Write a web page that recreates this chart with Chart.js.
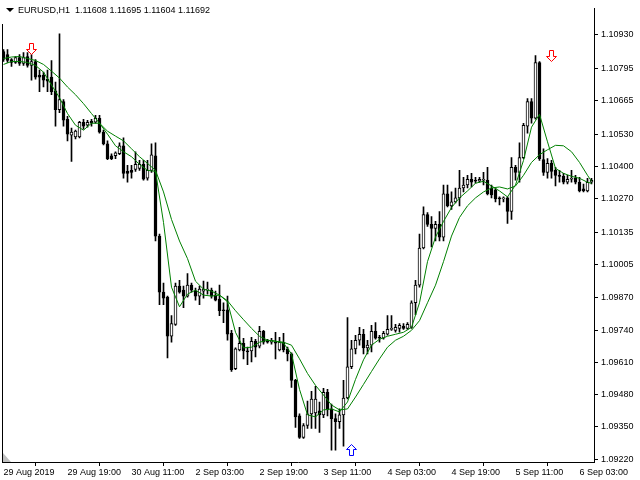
<!DOCTYPE html>
<html>
<head>
<meta charset="utf-8">
<script src="https://cdn.jsdelivr.net/npm/chart.js@4.4.0/dist/chart.umd.min.js"></script>
<style>
  html, body { margin: 0; padding: 0; background: #fff; }
  canvas { display: block; }
</style>
</head>
<body>
<canvas id="chart" width="640" height="480"></canvas>
<script>
const titleText = "EURUSD,H1  1.11608 1.11695 1.11604 1.11692";

// H1 candles, one per bar, left to right
const opens = [
  1.10863, 1.10851, 1.10831, 1.10819, 1.10839, 1.10815, 1.10843, 1.10807, 1.10823, 1.10768,
  1.10768, 1.10752, 1.10760, 1.10705, 1.10629, 1.10661, 1.10590, 1.10526, 1.10519, 1.10519,
  1.10578, 1.10566, 1.10582, 1.10578, 1.10594, 1.10538, 1.10491, 1.10443, 1.10443, 1.10451,
  1.10483, 1.10380, 1.10384, 1.10388, 1.10392, 1.10408, 1.10352, 1.10384, 1.10443, 1.10119,
  1.09893, 1.09873, 1.09715, 1.09763, 1.09917, 1.09901, 1.09877, 1.09921, 1.09897, 1.09877,
  1.09897, 1.09901, 1.09901, 1.09881, 1.09865, 1.09822, 1.09822, 1.09727, 1.09584, 1.09660,
  1.09687, 1.09656, 1.09656, 1.09695, 1.09675, 1.09735, 1.09695, 1.09691, 1.09691, 1.09660,
  1.09691, 1.09664, 1.09644, 1.09537, 1.09394, 1.09307, 1.09355, 1.09402, 1.09406, 1.09414,
  1.09398, 1.09489, 1.09422, 1.09383, 1.09371, 1.09398, 1.09466, 1.09592, 1.09664, 1.09699,
  1.09723, 1.09668, 1.09679, 1.09735, 1.09711, 1.09707, 1.09723, 1.09743, 1.09739, 1.09747,
  1.09755, 1.09747, 1.09751, 1.09850, 1.09921, 1.10071, 1.10206, 1.10166, 1.10150, 1.10166,
  1.10115, 1.10289, 1.10241, 1.10257, 1.10273, 1.10313, 1.10325, 1.10348, 1.10344, 1.10340,
  1.10344, 1.10344, 1.10313, 1.10305, 1.10273, 1.10269, 1.10273, 1.10218, 1.10396, 1.10376,
  1.10435, 1.10562, 1.10661, 1.10594, 1.10819, 1.10427, 1.10376, 1.10412, 1.10384, 1.10364,
  1.10360, 1.10336, 1.10348, 1.10352, 1.10336, 1.10309, 1.10301, 1.10336
];
const highs = [
  1.10871, 1.10871, 1.10835, 1.10843, 1.10851, 1.10859, 1.10859, 1.10851, 1.10831, 1.10788,
  1.10780, 1.10788, 1.10827, 1.10740, 1.10934, 1.10669, 1.10602, 1.10554, 1.10546, 1.10582,
  1.10590, 1.10586, 1.10590, 1.10606, 1.10606, 1.10546, 1.10503, 1.10451, 1.10459, 1.10495,
  1.10515, 1.10404, 1.10404, 1.10459, 1.10424, 1.10424, 1.10424, 1.10491, 1.10495, 1.10127,
  1.09929, 1.09877, 1.09798, 1.09929, 1.09941, 1.09917, 1.09968, 1.09929, 1.09909, 1.09917,
  1.09937, 1.09933, 1.09909, 1.09897, 1.09921, 1.09850, 1.09877, 1.09739, 1.09668, 1.09751,
  1.09707, 1.09671, 1.09711, 1.09703, 1.09755, 1.09739, 1.09703, 1.09707, 1.09731, 1.09711,
  1.09727, 1.09671, 1.09648, 1.09541, 1.09402, 1.09363, 1.09454, 1.09493, 1.09513, 1.09450,
  1.09505, 1.09501, 1.09442, 1.09402, 1.09422, 1.09537, 1.09790, 1.09699, 1.09719, 1.09751,
  1.09743, 1.09699, 1.09759, 1.09770, 1.09719, 1.09735, 1.09798, 1.09798, 1.09763, 1.09766,
  1.09766, 1.09770, 1.09858, 1.09941, 1.10127, 1.10237, 1.10214, 1.10198, 1.10178, 1.10218,
  1.10325, 1.10325, 1.10297, 1.10313, 1.10384, 1.10356, 1.10364, 1.10372, 1.10356, 1.10356,
  1.10376, 1.10396, 1.10325, 1.10313, 1.10277, 1.10277, 1.10277, 1.10435, 1.10404, 1.10495,
  1.10574, 1.10673, 1.10673, 1.10847, 1.10823, 1.10471, 1.10431, 1.10424, 1.10396, 1.10384,
  1.10372, 1.10364, 1.10384, 1.10364, 1.10356, 1.10329, 1.10352, 1.10352
];
const lows = [
  1.10823, 1.10819, 1.10803, 1.10815, 1.10807, 1.10807, 1.10800, 1.10748, 1.10752, 1.10701,
  1.10720, 1.10701, 1.10689, 1.10562, 1.10617, 1.10562, 1.10503, 1.10420, 1.10511, 1.10515,
  1.10550, 1.10558, 1.10562, 1.10574, 1.10534, 1.10487, 1.10427, 1.10427, 1.10431, 1.10447,
  1.10352, 1.10336, 1.10352, 1.10380, 1.10384, 1.10344, 1.10344, 1.10376, 1.10099, 1.09842,
  1.09842, 1.09628, 1.09691, 1.09759, 1.09889, 1.09830, 1.09873, 1.09893, 1.09861, 1.09842,
  1.09869, 1.09885, 1.09869, 1.09858, 1.09798, 1.09770, 1.09699, 1.09573, 1.09580, 1.09656,
  1.09624, 1.09600, 1.09612, 1.09632, 1.09668, 1.09683, 1.09687, 1.09683, 1.09624, 1.09656,
  1.09652, 1.09616, 1.09509, 1.09347, 1.09303, 1.09303, 1.09343, 1.09343, 1.09343, 1.09327,
  1.09387, 1.09394, 1.09256, 1.09256, 1.09343, 1.09272, 1.09462, 1.09584, 1.09644, 1.09679,
  1.09644, 1.09644, 1.09652, 1.09703, 1.09691, 1.09703, 1.09719, 1.09739, 1.09731, 1.09731,
  1.09743, 1.09743, 1.09747, 1.09802, 1.09913, 1.10067, 1.10158, 1.10075, 1.10099, 1.10099,
  1.10099, 1.10237, 1.10226, 1.10253, 1.10241, 1.10297, 1.10313, 1.10317, 1.10332, 1.10336,
  1.10325, 1.10285, 1.10273, 1.10257, 1.10245, 1.10257, 1.10170, 1.10186, 1.10344, 1.10336,
  1.10431, 1.10534, 1.10574, 1.10590, 1.10424, 1.10364, 1.10352, 1.10352, 1.10321, 1.10336,
  1.10329, 1.10329, 1.10336, 1.10329, 1.10297, 1.10297, 1.10297, 1.10329
];
const closes = [
  1.10831, 1.10827, 1.10819, 1.10839, 1.10815, 1.10839, 1.10807, 1.10823, 1.10760, 1.10760,
  1.10748, 1.10744, 1.10701, 1.10629, 1.10669, 1.10586, 1.10530, 1.10538, 1.10542, 1.10578,
  1.10562, 1.10578, 1.10574, 1.10594, 1.10538, 1.10491, 1.10431, 1.10431, 1.10455, 1.10483,
  1.10372, 1.10372, 1.10376, 1.10408, 1.10408, 1.10348, 1.10384, 1.10447, 1.10119, 1.09893,
  1.09869, 1.09715, 1.09766, 1.09917, 1.09893, 1.09877, 1.09921, 1.09901, 1.09877, 1.09905,
  1.09905, 1.09905, 1.09877, 1.09861, 1.09818, 1.09818, 1.09723, 1.09580, 1.09664, 1.09687,
  1.09656, 1.09652, 1.09695, 1.09671, 1.09735, 1.09691, 1.09691, 1.09699, 1.09687, 1.09691,
  1.09660, 1.09644, 1.09537, 1.09390, 1.09307, 1.09355, 1.09402, 1.09462, 1.09462, 1.09398,
  1.09489, 1.09418, 1.09383, 1.09371, 1.09398, 1.09466, 1.09592, 1.09664, 1.09699, 1.09723,
  1.09668, 1.09679, 1.09735, 1.09707, 1.09707, 1.09727, 1.09743, 1.09747, 1.09751, 1.09759,
  1.09747, 1.09763, 1.09850, 1.09921, 1.10071, 1.10206, 1.10166, 1.10150, 1.10166, 1.10115,
  1.10289, 1.10241, 1.10257, 1.10273, 1.10313, 1.10325, 1.10348, 1.10336, 1.10340, 1.10348,
  1.10348, 1.10289, 1.10285, 1.10269, 1.10269, 1.10273, 1.10218, 1.10396, 1.10376, 1.10435,
  1.10566, 1.10661, 1.10594, 1.10819, 1.10431, 1.10376, 1.10412, 1.10380, 1.10364, 1.10360,
  1.10336, 1.10348, 1.10352, 1.10336, 1.10301, 1.10301, 1.10336, 1.10344
];

// the two green averages, read every second bar
const maBars = [
  0, 2, 4, 6, 8, 10, 12, 14, 16, 18, 20, 22, 24, 26, 28, 30, 32, 34, 36, 38,
  40, 42, 44, 46, 48, 50, 52, 54, 56, 58, 60, 62, 64, 66, 68, 70, 72, 74, 76, 78,
  80, 82, 84, 86, 88, 90, 92, 94, 96, 98, 100, 102, 104, 106, 108, 110, 112, 114, 116, 118,
  120, 122, 124, 126, 128, 130, 132, 134, 136, 138, 140, 142, 144, 146, 147
];
const fastMa = [
  1.10811, 1.10823, 1.10823, 1.10819, 1.10807, 1.10780, 1.10728, 1.10677, 1.10613, 1.10566,
  1.10546, 1.10574, 1.10574, 1.10530, 1.10483, 1.10459, 1.10439, 1.10408, 1.10384, 1.10380,
  1.10174, 1.09913, 1.09834, 1.09885, 1.09901, 1.09881, 1.09877, 1.09881, 1.09854, 1.09731,
  1.09668, 1.09671, 1.09691, 1.09699, 1.09695, 1.09687, 1.09644, 1.09501, 1.09398, 1.09390,
  1.09418, 1.09422, 1.09410, 1.09450, 1.09541, 1.09620, 1.09679, 1.09703, 1.09715, 1.09723,
  1.09731, 1.09751, 1.09850, 1.10016, 1.10115, 1.10178, 1.10234, 1.10273, 1.10301, 1.10332,
  1.10340, 1.10321, 1.10301, 1.10277, 1.10325, 1.10424, 1.10558, 1.10610, 1.10499, 1.10392,
  1.10372, 1.10360, 1.10352, 1.10336, 1.10332
];
const slowMa = [
  1.10835, 1.10841, 1.10843, 1.10835, 1.10827, 1.10811, 1.10784, 1.10756, 1.10720, 1.10689,
  1.10653, 1.10613, 1.10574, 1.10542, 1.10522, 1.10503, 1.10471, 1.10439, 1.10412, 1.10384,
  1.10297, 1.10186, 1.10099, 1.10028, 1.09937, 1.09905, 1.09897, 1.09881, 1.09858, 1.09818,
  1.09782, 1.09747, 1.09715, 1.09699, 1.09695, 1.09691, 1.09679, 1.09624, 1.09565, 1.09517,
  1.09478, 1.09438, 1.09418, 1.09422, 1.09470, 1.09521, 1.09573, 1.09624, 1.09671, 1.09699,
  1.09715, 1.09739, 1.09778, 1.09850, 1.09921, 1.10016, 1.10119, 1.10194, 1.10241, 1.10273,
  1.10297, 1.10313, 1.10317, 1.10309, 1.10321, 1.10364, 1.10416, 1.10447, 1.10467, 1.10485,
  1.10483, 1.10459, 1.10416, 1.10364, 1.10340
];

// signal arrows
const sellBars = [7, 137];
const sellPrices = [1.10875, 1.10847];
const buyBars = [87];
const buyPrices = [1.09256];

// axes
const yTicks = [1.10930, 1.10795, 1.10665, 1.10530, 1.10400, 1.10270, 1.10135,
  1.10005, 1.09870, 1.09740, 1.09610, 1.09480, 1.09350, 1.09220];
const xTickBars = [0, 16, 32, 48, 64, 80, 96, 112, 128, 144];
const xTickLabels = ["29 Aug 2019", "29 Aug 19:00", "30 Aug 11:00", "2 Sep 03:00",
  "2 Sep 19:00", "3 Sep 11:00", "4 Sep 03:00", "4 Sep 19:00", "5 Sep 11:00", "6 Sep 03:00"];

const FONT = '"Liberation Sans", Arial, sans-serif';

function arrowImage(color, up) {
  const c = document.createElement("canvas");
  c.width = 11;
  c.height = 12;
  const g = c.getContext("2d");
  let pts = [[3.5, 0.5], [7.5, 0.5], [7.5, 6.5], [10.5, 6.5], [5.5, 11.5], [0.5, 6.5], [3.5, 6.5]];
  if (up) pts = pts.map(([x, y]) => [x, 12 - y]);
  g.beginPath();
  pts.forEach(([x, y], k) => (k ? g.lineTo(x, y) : g.moveTo(x, y)));
  g.closePath();
  g.fillStyle = "#fff";
  g.fill();
  g.strokeStyle = color;
  g.lineWidth = 1;
  g.stroke();
  return c;
}
const sellArrow = arrowImage("#ff0000", false);
const buyArrow = arrowImage("#0000ff", true);

const frame = {
  id: "frame",
  afterDatasetsDraw(chart) {
    const { ctx, scales } = chart;
    const put = (img, bar, price) => {
      const px = Math.round(scales.x.getPixelForValue(bar) - img.width / 2);
      const py = Math.round(scales.y.getPixelForValue(price) - img.height / 2);
      ctx.drawImage(img, px, py);
    };
    sellBars.forEach((b, k) => put(sellArrow, b, sellPrices[k]));
    buyBars.forEach((b, k) => put(buyArrow, b, buyPrices[k]));
  },
  afterDraw(chart) {
    const { ctx, chartArea } = chart;
    ctx.save();
    ctx.strokeStyle = "#000";
    ctx.lineWidth = 1;
    ctx.beginPath();
    ctx.moveTo(chartArea.left + 0.5, 24);
    ctx.lineTo(chartArea.left + 0.5, chartArea.bottom);
    ctx.stroke();
    // grey corner marker
    ctx.fillStyle = "#c0c0c0";
    ctx.beginPath();
    ctx.moveTo(chartArea.left + 1, chartArea.bottom - 9);
    ctx.lineTo(chartArea.left + 1, chartArea.bottom);
    ctx.lineTo(chartArea.left + 9, chartArea.bottom);
    ctx.closePath();
    ctx.fill();
    // symbol line
    ctx.fillStyle = "#000";
    ctx.beginPath();
    ctx.moveTo(6, 8);
    ctx.lineTo(14, 8);
    ctx.lineTo(10, 12);
    ctx.closePath();
    ctx.fill();
    ctx.font = "9px " + FONT;
    ctx.textBaseline = "middle";
    ctx.fillText(titleText, 18, 10.5);
    ctx.restore();
  },
};

const wickData = opens.map((o, i) => ({ x: i, y: [lows[i], highs[i]] }));
const bodyData = opens.map((o, i) => ({ x: i, y: [o, closes[i]] }));
const bodyFill = opens.map((o, i) => (closes[i] > o ? "#ffffff" : "#000000"));

new Chart(document.getElementById("chart"), {
  type: "bar",
  data: {
    datasets: [
      {
        type: "line",
        data: maBars.map((b, k) => ({ x: b, y: fastMa[k] })),
        borderColor: "#008000",
        borderWidth: 1,
        pointRadius: 0,
        tension: 0,
        order: 1,
      },
      {
        type: "line",
        data: maBars.map((b, k) => ({ x: b, y: slowMa[k] })),
        borderColor: "#008000",
        borderWidth: 1,
        pointRadius: 0,
        tension: 0,
        order: 1,
      },
      {
        data: bodyData,
        backgroundColor: bodyFill,
        borderColor: "#000",
        borderWidth: 1,
        borderSkipped: false,
        barThickness: 3,
        order: 2,
      },
      {
        data: wickData,
        backgroundColor: "#000",
        borderWidth: 0,
        barThickness: 1,
        order: 3,
      },
    ],
  },
  options: {
    responsive: false,
    animation: false,
    devicePixelRatio: 1,
    layout: { padding: { left: 2, top: 0, right: 0, bottom: 0 } },
    datasets: { bar: { grouped: false } },
    plugins: { legend: { display: false }, tooltip: { enabled: false } },
    scales: {
      x: {
        type: "linear",
        min: -0.375,
        max: 147.625,
        offset: false,
        afterBuildTicks: (s) => {
          s.ticks = xTickBars.map((v) => ({ value: v }));
        },
        afterFit: (s) => {
          s.height = 18;
        },
        ticks: {
          callback: (v, i) => xTickLabels[i],
          align: "start",
          maxRotation: 0,
          autoSkip: false,
          color: "#000",
          font: { family: FONT, size: 9 },
          padding: 1,
        },
        grid: { drawOnChartArea: false, tickLength: 4, color: "#000" },
        border: { color: "#000" },
      },
      y: {
        position: "right",
        min: 1.09208,
        max: 1.11037,
        afterBuildTicks: (s) => {
          s.ticks = yTicks.map((v) => ({ value: v }));
        },
        afterFit: (s) => {
          s.width = 46;
        },
        ticks: {
          callback: (v) => v.toFixed(5),
          color: "#000",
          font: { family: FONT, size: 9 },
          padding: 3,
        },
        grid: { drawOnChartArea: false, tickLength: 4, color: "#000" },
        border: { color: "#000" },
      },
    },
  },
  plugins: [frame],
});
</script>
</body>
</html>
